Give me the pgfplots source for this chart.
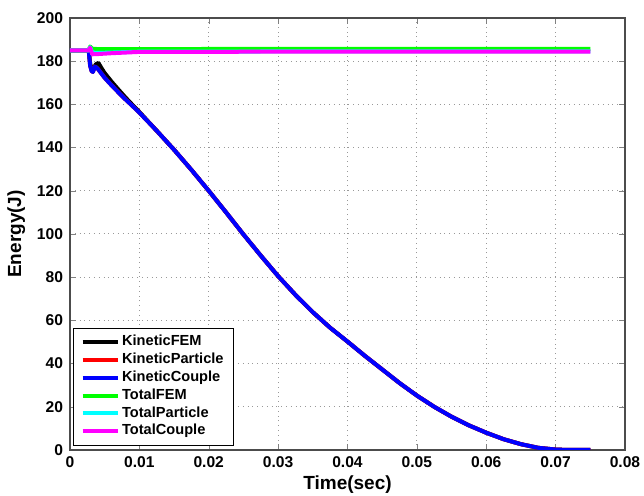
\documentclass[border=0pt]{standalone}
\usepackage{pgfplots}
\pgfplotsset{compat=1.18}
\usepackage{fontspec}
\setmainfont{Liberation Sans}
\definecolor{mgreen}{RGB}{0,255,0}
\definecolor{mcyan}{RGB}{0,255,255}
\definecolor{mmag}{RGB}{255,0,255}
\begin{document}
\begin{tikzpicture}
\begin{axis}[
  scale only axis,
  width=277.5pt, height=216pt,
  xmin=0, xmax=0.08, ymin=0, ymax=200,
  scaled x ticks=false,
  xtick={0,0.01,0.02,0.03,0.04,0.05,0.06,0.07,0.08},
  xticklabels={0,0.01,0.02,0.03,0.04,0.05,0.06,0.07,0.08},
  ytick={0,20,...,200},
  tick align=inside,
  tick pos=both,
  major tick length=3pt,
  grid=major,
  major grid style={dotted, gray!80, line width=0.5pt},
  axis line style={gray!60!black, line width=0.6pt},
  /pgf/number format/assume math mode=true,
  ticklabel style={font=\bfseries\fontsize{7.8}{9}\selectfont},
  xlabel={Time(sec)}, ylabel={Energy(J)},
  label style={font=\bfseries\fontsize{9.5}{11}\selectfont},
  xlabel style={yshift=3pt},
  ylabel style={yshift=-1pt},
  legend style={at={(0.006,0.01)}, anchor=south west, draw=black, fill=white,
    font=\bfseries\fontsize{7.3}{9}\selectfont, inner xsep=3.5pt, inner ysep=2.5pt, row sep=-0.3pt,
    nodes={inner sep=1.2pt}},
  legend cell align=left,
  legend image code/.code={\draw[#1] (0pt,0pt) -- (17.5pt,0pt);},
  every axis plot/.append style={line width=2pt, line join=round},
]
% KineticFEM
\addplot[black] coordinates {
(0,185) (0.0027,185) (0.0029,179) (0.0031,176.5) (0.0034,176.5) (0.0037,178.5) (0.0041,179.2) (0.0045,177) (0.005,174.5) (0.006,170.5) (0.007,166.8) (0.008,163.2) (0.009,159.8) (0.01,156.5) (0.0125,147.8) (0.015,139) (0.0175,129.7) (0.02,120) (0.0225,110) (0.025,99.8) (0.0275,90) (0.03,80.5) (0.0325,71.8) (0.035,63.8) (0.0375,56.6) (0.04,50.2) (0.0425,43.6) (0.045,37.3) (0.0475,31) (0.05,25.2) (0.0525,20) (0.055,15.4) (0.0575,11.4) (0.06,8) (0.0625,5) (0.065,2.7) (0.0675,1) (0.07,0.2) (0.072,0) (0.075,0)};
% KineticParticle
\addplot[red] coordinates {
(0,185) (0.0027,185) (0.0029,178) (0.0031,175.5) (0.0033,175) (0.0036,177.5) (0.004,176.5) (0.005,172.3) (0.006,168.8) (0.007,165.5) (0.008,162.3) (0.009,159.3) (0.01,156.2) (0.0125,147.8) (0.015,139) (0.0175,129.7) (0.02,120) (0.0225,110) (0.025,99.8) (0.0275,90) (0.03,80.5) (0.0325,71.8) (0.035,63.8) (0.0375,56.6) (0.04,50.2) (0.0425,43.6) (0.045,37.3) (0.0475,31) (0.05,25.2) (0.0525,20) (0.055,15.4) (0.0575,11.4) (0.06,8) (0.0625,5) (0.065,2.7) (0.0675,1) (0.07,0.2) (0.072,0) (0.075,0)};
% KineticCouple
\addplot[blue] coordinates {
(0,185) (0.0027,185) (0.0029,178) (0.0031,175.5) (0.0033,175) (0.0036,177.5) (0.004,176.5) (0.005,172.3) (0.006,168.8) (0.007,165.5) (0.008,162.3) (0.009,159.3) (0.01,156.2) (0.0125,147.8) (0.015,139) (0.0175,129.7) (0.02,120) (0.0225,110) (0.025,99.8) (0.0275,90) (0.03,80.5) (0.0325,71.8) (0.035,63.8) (0.0375,56.6) (0.04,50.2) (0.0425,43.6) (0.045,37.3) (0.0475,31) (0.05,25.2) (0.0525,20) (0.055,15.4) (0.0575,11.4) (0.06,8) (0.0625,5) (0.065,2.7) (0.0675,1) (0.07,0.2) (0.072,0) (0.075,0)};
% TotalFEM
\addplot[mgreen] coordinates {
(0,185) (0.0027,185) (0.0029,186.8) (0.0032,185.8) (0.004,185.6) (0.01,185.6) (0.03,185.7) (0.05,185.7) (0.075,185.7)};
% TotalParticle
\addplot[mcyan] coordinates {
(0,185) (0.0027,185) (0.0029,186.5) (0.0032,184) (0.004,183.8) (0.006,184) (0.01,184.4) (0.03,184.5) (0.05,184.5) (0.075,184.5)};
% TotalCouple
\addplot[mmag] coordinates {
(0,185) (0.0027,185) (0.0029,186.3) (0.0032,183.2) (0.004,183.3) (0.006,183.7) (0.008,184) (0.01,184.3) (0.03,184.4) (0.05,184.4) (0.075,184.4)};
\legend{KineticFEM,KineticParticle,KineticCouple,TotalFEM,TotalParticle,TotalCouple}
\end{axis}
\pgfresetboundingbox
\useasboundingbox (-35pt,-23pt) rectangle (287pt,225pt);
\end{tikzpicture}
\end{document}
